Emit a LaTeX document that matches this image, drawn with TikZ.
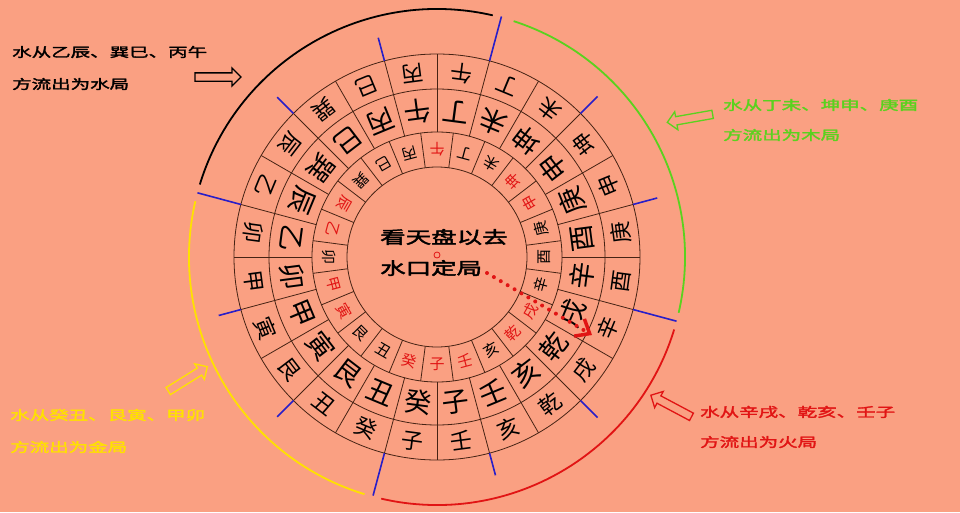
\documentclass[tikz,border=0pt]{standalone}
\usepackage{fontspec}
\setmainfont{Noto Sans CJK SC}
\newfontfamily\ringfont{Noto Sans CJK SC}
\newfontfamily\labelfont[FakeStretch=1.5,FakeBold=2.5]{Noto Sans CJK SC}
\usetikzlibrary{shapes.arrows,arrows.meta}

\definecolor{salmonbg}{RGB}{250,160,130}
\definecolor{ringbrown}{RGB}{70,35,20}
\definecolor{markblue}{RGB}{40,30,200}
\definecolor{woodgreen}{RGB}{90,210,30}
\definecolor{metalyellow}{RGB}{255,225,0}
\definecolor{firered}{RGB}{225,20,20}

\begin{document}
\begin{tikzpicture}[x=1pt,y=1pt,
    ringline/.style={ringbrown, line width=0.8pt},
    bigch/.style={font=\ringfont\fontsize{22}{22}\selectfont, inner sep=0pt},
    midch/.style={font=\ringfont\fontsize{27}{27}\selectfont, inner sep=0pt},
    smallch/.style={font=\ringfont\fontsize{15}{15}\selectfont, inner sep=0pt},
    flowarc/.style={line width=1.8pt},
    quarterline/.style={markblue, line width=1.6pt},
    hollowarrow/.style={single arrow, draw, line width=1.3pt, minimum height=46pt, single arrow head extend=5pt, inner sep=3.5pt},
    sidelabel/.style={font=\labelfont\fontsize{13}{13}\selectfont, anchor=west, inner sep=0pt},
    centerlabel/.style={font=\labelfont\fontsize{17}{17}\selectfont, anchor=west, inner sep=0pt}]
    \fill[salmonbg] (-437,-255) rectangle (523,257);
    \useasboundingbox (-437,-255) rectangle (523,257);

    \draw[ringline] (0,0) circle[radius=203] circle[radius=168] circle[radius=125] circle[radius=90];
    \foreach \a in {0,15,...,345}
        \draw[ringline] (\a:125) -- (\a:203);
    \foreach \a in {7.5,22.5,...,352.5}
        \draw[ringline] (\a:90) -- (\a:125);

    \foreach \ch/\col [count=\i from 0] in {丙/black,午/firered,丁/black,未/black,坤/firered,申/firered,庚/black,酉/black,辛/black,戌/firered,乾/firered,亥/black,壬/firered,子/firered,癸/firered,丑/black,艮/black,寅/firered,甲/firered,卯/black,乙/firered,辰/firered,巽/black,巳/black}{
        \node[bigch, rotate=187.5-15*\i] (out\i) at ({97.5-15*\i}:185.5) {\ch};
        \node[midch, rotate=202.5-15*\i] (mid\i) at ({112.5-15*\i}:146.5) {\ch};
        \node[smallch, text=\col, rotate=195-15*\i] (in\i) at ({105-15*\i}:107.5) {\ch};
    }

    \foreach \a/\r in {15/228,45/227,75/249,105/227,135/226,165/248,195/226,225/226,255/247,285/226,315/227,345/248}
        \draw[quarterline] (\a:203) -- (\a:\r);

    \draw[flowarc] (163:248) arc[start angle=163, end angle=77, radius=248];
    \draw[flowarc, woodgreen] (72:248) arc[start angle=72, end angle=-13, radius=248];
    \draw[flowarc, firered] (-17:248) arc[start angle=-17, end angle=-103, radius=248];
    \draw[flowarc, metalyellow] (253:248) arc[start angle=253, end angle=167, radius=248];

    \node[sidelabel] (waterA) at (-425,205) {水从乙辰、巽巳、丙午};
    \node[sidelabel] (waterB) at (-425,173) {方流出为水局};
    \node[sidelabel, woodgreen] (woodA) at (286,152) {水从丁未、坤申、庚酉};
    \node[sidelabel, woodgreen] (woodB) at (286,122) {方流出为木局};
    \node[sidelabel, metalyellow] (metalA) at (-427,-158) {水从癸丑、艮寅、甲卯};
    \node[sidelabel, metalyellow] (metalB) at (-427,-190) {方流出为金局};
    \node[sidelabel, firered] (fireA) at (263,-155) {水从辛戌、乾亥、壬子};
    \node[sidelabel, firered] (fireB) at (263,-185) {方流出为火局};

    \node[hollowarrow] (waterarrow) at (-221,180) {};
    \node[hollowarrow, woodgreen, rotate=190] (woodarrow) at (255,139) {};
    \node[hollowarrow, firered, rotate=152] (firearrow) at (236,-150) {};
    \node[hollowarrow, metalyellow, rotate=32] (metalarrow) at (-251,-123) {};

    \node[centerlabel] (lookA) at (-57,20) {看天盘以去};
    \node[centerlabel] (lookB) at (-57,-11) {水口定局};
    \draw[firered, line width=0.8pt] (0,2) circle[radius=3];

    \coordinate (flowstart) at (50,-16);
    \coordinate (flowend) at (155,-78);
    \draw[firered, line width=4pt, line cap=round, dash pattern=on 0pt off 8pt, -{Straight Barb[length=12pt,width=20pt,line width=3.5pt]}] (flowstart) -- (flowend);
\end{tikzpicture}
\end{document}
